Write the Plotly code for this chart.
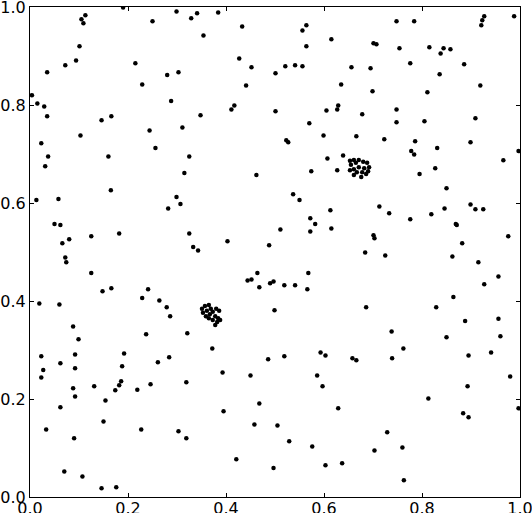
import plotly.graph_objects as go

# Scattered points (x, y in data units)
scatter_x = [
    0.190, 0.113, 0.105, 0.109, 0.250, 0.299, 0.329, 0.101, 0.072, 0.094,
    0.035, 0.215, 0.280, 0.303, 0.229, 0.004, 0.015, 0.029, 0.035, 0.288,
    0.146, 0.166, 0.244, 0.311, 0.103, 0.023, 0.256, 0.037, 0.031, 0.160,
    0.325, 0.315,
    0.341, 0.384, 0.433, 0.354, 0.556, 0.564, 0.564, 0.615, 0.427, 0.452,
    0.501, 0.521, 0.541, 0.556, 0.656, 0.441, 0.635, 0.348, 0.411, 0.417,
    0.501, 0.605, 0.627, 0.629, 0.570, 0.599, 0.666, 0.523, 0.527, 0.607,
    0.639, 0.574, 0.627,
    0.748, 0.784, 0.927, 0.923, 0.921, 0.988, 0.701, 0.707, 0.754, 0.815,
    0.844, 0.838, 0.858, 0.776, 0.886, 0.695, 0.836, 0.919, 0.699, 0.811,
    0.678, 0.748, 0.748, 0.805, 0.909, 0.723, 0.786, 0.778, 0.784, 0.831,
    0.899, 0.997, 0.966, 0.827,
    0.165, 0.013, 0.058, 0.299, 0.307, 0.282, 0.050, 0.062, 0.182, 0.325,
    0.333, 0.066, 0.080, 0.125, 0.072, 0.074, 0.125, 0.148, 0.166, 0.229,
    0.241, 0.264, 0.279, 0.286, 0.019, 0.060, 0.088, 0.099, 0.237, 0.321,
    0.462, 0.537, 0.550, 0.613, 0.572, 0.582, 0.572, 0.615, 0.511, 0.403,
    0.343, 0.488, 0.464, 0.444, 0.452, 0.468, 0.490, 0.497, 0.519, 0.541,
    0.568, 0.566, 0.499,
    0.795, 0.850, 0.713, 0.733, 0.776, 0.819, 0.846, 0.899, 0.909, 0.925,
    0.869, 0.871, 0.701, 0.703, 0.882, 0.976, 0.684, 0.725, 0.862, 0.915,
    0.956, 0.927, 0.864, 0.686, 0.829, 0.888, 0.956, 0.738, 0.850, 0.960,
    0.023, 0.092, 0.192, 0.062, 0.092, 0.188, 0.261, 0.284, 0.027, 0.023,
    0.088, 0.092, 0.131, 0.174, 0.182, 0.186, 0.219, 0.246, 0.319, 0.154,
    0.062, 0.150, 0.033, 0.090, 0.227, 0.303, 0.319, 0.070, 0.107, 0.146,
    0.176,
    0.372, 0.393, 0.450, 0.486, 0.519, 0.593, 0.603, 0.658, 0.666, 0.586,
    0.597, 0.395, 0.468, 0.458, 0.505, 0.629, 0.529, 0.576, 0.421, 0.497,
    0.603, 0.637,
    0.762, 0.739, 0.895, 0.941, 0.980, 0.893, 0.813, 0.997, 0.884, 0.895,
    0.729, 0.703, 0.760, 0.763,
]
scatter_y = [
    0.999, 0.983, 0.975, 0.967, 0.971, 0.991, 0.977, 0.920, 0.881, 0.891,
    0.867, 0.885, 0.861, 0.867, 0.842, 0.820, 0.803, 0.797, 0.777, 0.808,
    0.769, 0.777, 0.748, 0.754, 0.738, 0.722, 0.712, 0.695, 0.675, 0.695,
    0.695, 0.661,
    0.987, 0.989, 0.960, 0.942, 0.952, 0.963, 0.920, 0.934, 0.895, 0.877,
    0.865, 0.879, 0.881, 0.879, 0.877, 0.840, 0.842, 0.779, 0.791, 0.799,
    0.787, 0.789, 0.791, 0.799, 0.763, 0.738, 0.736, 0.728, 0.724, 0.691,
    0.697, 0.665, 0.667,
    0.971, 0.971, 0.981, 0.973, 0.963, 0.981, 0.926, 0.924, 0.916, 0.918,
    0.916, 0.905, 0.914, 0.885, 0.883, 0.875, 0.863, 0.840, 0.828, 0.826,
    0.781, 0.791, 0.765, 0.767, 0.773, 0.730, 0.726, 0.706, 0.699, 0.712,
    0.724, 0.706, 0.687, 0.671,
    0.626, 0.606, 0.608, 0.612, 0.598, 0.589, 0.557, 0.555, 0.538, 0.538,
    0.510, 0.518, 0.526, 0.532, 0.489, 0.479, 0.457, 0.420, 0.426, 0.406,
    0.424, 0.401, 0.387, 0.369, 0.395, 0.393, 0.348, 0.322, 0.332, 0.334,
    0.657, 0.618, 0.606, 0.585, 0.569, 0.557, 0.542, 0.548, 0.546, 0.522,
    0.503, 0.514, 0.457, 0.442, 0.444, 0.428, 0.436, 0.440, 0.432, 0.432,
    0.457, 0.424, 0.381,
    0.659, 0.630, 0.593, 0.579, 0.567, 0.577, 0.589, 0.597, 0.587, 0.587,
    0.557, 0.555, 0.534, 0.528, 0.518, 0.532, 0.499, 0.493, 0.491, 0.479,
    0.450, 0.434, 0.408, 0.387, 0.387, 0.359, 0.364, 0.338, 0.326, 0.328,
    0.287, 0.291, 0.293, 0.273, 0.263, 0.267, 0.275, 0.285, 0.259, 0.244,
    0.222, 0.205, 0.226, 0.218, 0.228, 0.236, 0.219, 0.230, 0.234, 0.197,
    0.183, 0.154, 0.138, 0.120, 0.138, 0.134, 0.120, 0.052, 0.042, 0.018,
    0.020,
    0.303, 0.254, 0.248, 0.281, 0.287, 0.295, 0.289, 0.283, 0.279, 0.248,
    0.226, 0.175, 0.191, 0.148, 0.146, 0.181, 0.114, 0.103, 0.077, 0.059,
    0.065, 0.069,
    0.303, 0.283, 0.289, 0.295, 0.246, 0.226, 0.201, 0.181, 0.171, 0.163,
    0.132, 0.095, 0.101, 0.034,
]

# Dense cluster near (0.67, 0.67)
cluster_a_x = [0.653, 0.661, 0.655, 0.665, 0.671, 0.680, 0.688, 0.692, 0.682,
               0.671, 0.661, 0.653, 0.667, 0.678, 0.686, 0.676, 0.661, 0.690]
cluster_a_y = [0.686, 0.688, 0.678, 0.682, 0.688, 0.684, 0.682, 0.673, 0.671,
               0.673, 0.669, 0.667, 0.663, 0.663, 0.659, 0.653, 0.657, 0.665]

# Dense cluster near (0.37, 0.37)
cluster_b_x = [0.351, 0.357, 0.365, 0.353, 0.361, 0.369, 0.359, 0.367, 0.373,
               0.380, 0.386, 0.378, 0.384, 0.373, 0.382, 0.388, 0.378, 0.365]
cluster_b_y = [0.384, 0.390, 0.392, 0.376, 0.380, 0.384, 0.369, 0.373, 0.378,
               0.384, 0.380, 0.369, 0.365, 0.361, 0.357, 0.361, 0.351, 0.365]

tick_vals = [0.0, 0.2, 0.4, 0.6, 0.8, 1.0]
tick_text = ["0.0", "0.2", "0.4", "0.6", "0.8", "1.0"]

marker = dict(color="black", size=4.5, symbol="circle", line=dict(width=0))

fig = go.Figure()
for xs, ys in [(scatter_x, scatter_y), (cluster_a_x, cluster_a_y), (cluster_b_x, cluster_b_y)]:
    fig.add_trace(go.Scatter(x=xs, y=ys, mode="markers", marker=marker,
                             showlegend=False, hoverinfo="skip"))

axis_common = dict(
    range=[0, 1], tickvals=tick_vals, ticktext=tick_text,
    showgrid=False, zeroline=False, showline=True, linecolor="black",
    linewidth=1, mirror="ticks", ticks="inside", ticklen=4, tickwidth=1,
    tickcolor="black", tickfont=dict(family="DejaVu Sans", size=16, color="black"),
    automargin=False, ticklabeloverflow="allow",
)

fig.update_layout(
    width=532, height=513, autosize=False,
    margin=dict(l=30, r=12, t=7, b=16, pad=0),
    paper_bgcolor="white", plot_bgcolor="white",
    xaxis=dict(**axis_common, ticklabelstandoff=-3),
    yaxis=dict(**axis_common),
)

fig.write_html(
    "out.html",
    config={"displayModeBar": False},
    post_script="document.body.style.margin='0';document.body.style.overflow='hidden';",
)
